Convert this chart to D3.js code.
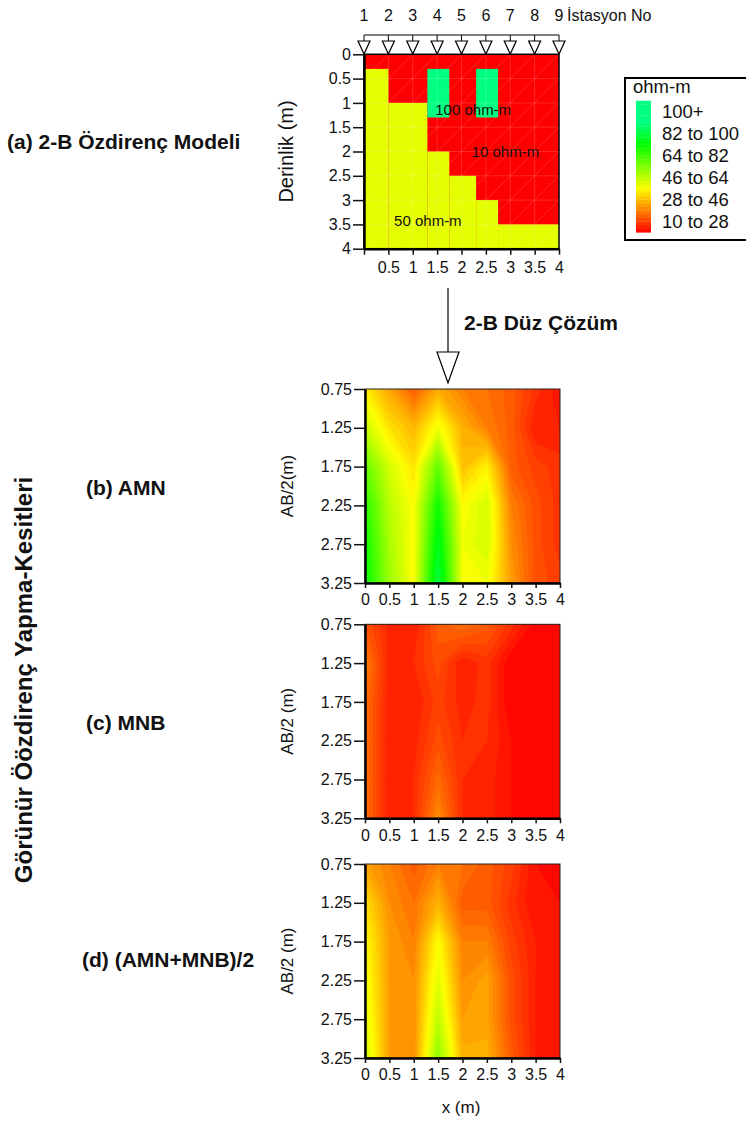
<!DOCTYPE html>
<html>
<head>
<meta charset="utf-8">
<script src="https://cdn.jsdelivr.net/npm/d3@7"></script>
<style>
body { margin: 0; background: #fff; }
text { font-family: "Liberation Sans", Arial, sans-serif; fill: #111; }
</style>
</head>
<body>
<div id="chart"></div>
<script>
const width = 746;
const height = 1124;

// station numbers and their x positions (m)
const stations = [1, 2, 3, 4, 5, 6, 7, 8, 9];
const stationX = [0, 0.5, 1, 1.5, 2, 2.5, 3, 3.5, 4];

// 2-D model blocks: [x0, x1, depth0, depth1, ohm-m]
const modelBlocks = [
    [0, 4, 0, 4, 10],
    [0, 0.5, 0.3, 4, 50],
    [0.5, 1.3, 1.0, 4, 50],
    [1.3, 1.75, 2.0, 4, 50],
    [1.75, 2.3, 2.5, 4, 50],
    [2.3, 2.75, 3.0, 4, 50],
    [2.75, 4, 3.5, 4, 50],
    [1.3, 1.75, 0.3, 1.3, 100],
    [2.3, 2.75, 0.3, 1.3, 100]
];
// model labels: [text, x, depth]
const modelLabels = [
    ['100 ohm-m', 2.24, 1.13],
    ['10 ohm-m', 2.9, 2.0],
    ['50 ohm-m', 1.31, 3.41]
];

const depthTicks = [0, 0.5, 1, 1.5, 2, 2.5, 3, 3.5, 4];
const xTicks = [0, 0.5, 1, 1.5, 2, 2.5, 3, 3.5, 4];
const abTicks = [0.75, 1.25, 1.75, 2.25, 2.75, 3.25];

// pseudo-section grid (x along columns, AB/2 along rows)
const xGrid = [0, 0.5, 1, 1.5, 2, 2.5, 3, 3.5, 4];
const abGrid = [0.75, 1.25, 1.75, 2.25, 2.75, 3.25];

const amnValues = [
    [44, 33, 23, 34, 28, 26, 23, 17, 12],
    [54, 42, 36, 48, 35, 28, 23, 14, 14],
    [68, 52, 42, 68, 37, 44, 23, 19, 17],
    [76, 56, 46, 80, 46, 52, 28, 21, 17],
    [80, 58, 46, 86, 48, 52, 30, 21, 17],
    [82, 60, 46, 92, 46, 48, 32, 21, 19]
];
const mnbValues = [
    [22, 15, 14, 23, 26, 23, 17, 11, 10],
    [28, 15, 16, 21, 14, 17, 10, 10, 10],
    [26, 14, 14, 19, 15, 17, 10, 10, 10],
    [26, 14, 15, 21, 16, 16, 12, 10, 10],
    [26, 14, 16, 25, 16, 15, 12, 10, 10],
    [26, 14, 16, 30, 16, 15, 12, 10, 10]
];
const avgValues = [
    [33, 28, 23, 28, 26, 23, 19, 12, 10],
    [42, 30, 26, 35, 23, 23, 17, 12, 12],
    [46, 32, 28, 46, 28, 28, 19, 14, 12],
    [48, 32, 30, 50, 30, 33, 21, 14, 12],
    [50, 32, 30, 55, 32, 33, 21, 14, 12],
    [53, 32, 30, 62, 35, 35, 23, 14, 12]
];

// legend
const legendLabels = ['100+', '82 to 100', '64 to 82', '46 to 64', '28 to 46', '10 to 28'];
const legendMids = [109, 91, 73, 55, 37, 19];

const color = d3.scaleLinear()
    .domain([10, 46, 82, 100])
    .range(['#ff0000', '#ffff00', '#00ff00', '#00ff80'])
    .clamp(true);

const svg = d3.select('#chart')
    .append('svg')
    .attr('width', width)
    .attr('height', height);

const styleAxis = (g, size) => {
    g.selectAll('text').style('font-size', size + 'px').style('font-family', '"Liberation Sans", Arial, sans-serif').attr('fill', '#111');
    g.selectAll('.tick line').attr('stroke', '#111').attr('stroke-width', 1.5);
    g.select('.domain').attr('stroke', '#000').attr('stroke-width', 2.5);
};

// ---------- (a) model ----------
const xA = d3.scaleLinear().domain([0, 4]).range([364, 559]);
const yA = d3.scaleLinear().domain([0, 4]).range([54.3, 248.7]);

svg.append('clipPath').attr('id', 'clipA')
    .append('rect')
    .attr('x', xA(0)).attr('y', yA(0))
    .attr('width', xA(4) - xA(0)).attr('height', yA(4) - yA(0));

const gA = svg.append('g').attr('clip-path', 'url(#clipA)');
gA.selectAll('rect.block')
    .data(modelBlocks)
    .join('rect')
    .attr('class', 'block')
    .attr('x', d => xA(d[0]))
    .attr('y', d => yA(d[2]))
    .attr('width', d => xA(d[1]) - xA(d[0]))
    .attr('height', d => yA(d[3]) - yA(d[2]))
    .attr('fill', d => color(d[4]));

// faint triangulation mesh
const meshStep = d3.range(0, 4.01, 0.5);
meshStep.forEach(v => {
    gA.append('line').attr('x1', xA(v)).attr('x2', xA(v)).attr('y1', yA(0)).attr('y2', yA(4));
    gA.append('line').attr('x1', xA(0)).attr('x2', xA(4)).attr('y1', yA(v)).attr('y2', yA(v));
});
d3.range(-4, 4.01, 0.5).forEach(v => {
    gA.append('line').attr('x1', xA(v)).attr('x2', xA(v + 4)).attr('y1', yA(4)).attr('y2', yA(0));
});
gA.selectAll('line').attr('stroke', '#fff').attr('stroke-opacity', 0.22).attr('stroke-width', 0.7);

svg.selectAll('text.mlabel')
    .data(modelLabels)
    .join('text')
    .attr('class', 'mlabel')
    .attr('x', d => xA(d[1]))
    .attr('y', d => yA(d[2]))
    .attr('text-anchor', 'middle')
    .attr('dominant-baseline', 'central')
    .style('font-size', '15px')
    .text(d => d[0]);

svg.append('rect')
    .attr('x', xA(0)).attr('y', yA(0))
    .attr('width', xA(4) - xA(0)).attr('height', yA(4) - yA(0))
    .attr('fill', 'none').attr('stroke', '#000').attr('stroke-width', 1.5);

svg.append('g')
    .attr('transform', 'translate(0,' + yA(4) + ')')
    .call(d3.axisBottom(xA).tickValues(xTicks).tickFormat(d => d === 0 ? '' : d).tickSize(6).tickSizeOuter(0).tickPadding(7))
    .call(g => styleAxis(g, 16));

svg.append('g')
    .attr('transform', 'translate(' + xA(0) + ',0)')
    .call(d3.axisLeft(yA).tickValues(depthTicks).tickFormat(d => d).tickSize(11).tickSizeOuter(0).tickPadding(2))
    .call(g => styleAxis(g, 16));

svg.append('text')
    .attr('transform', 'translate(286,' + ((yA(0) + yA(4)) / 2) + ') rotate(-90)')
    .attr('text-anchor', 'middle')
    .attr('dominant-baseline', 'central')
    .style('font-size', '20px')
    .text('Derinlik (m)');

// stations
const stY = 35;
svg.append('line')
    .attr('x1', xA(0)).attr('x2', xA(4)).attr('y1', stY).attr('y2', stY)
    .attr('stroke', '#000').attr('stroke-width', 1);
const st = svg.selectAll('g.station')
    .data(stationX)
    .join('g')
    .attr('class', 'station')
    .attr('transform', d => 'translate(' + xA(d) + ',0)');
st.append('line').attr('y1', stY).attr('y2', 41).attr('stroke', '#000');
st.append('path')
    .attr('d', 'M-6,41 L6,41 L0,54 Z')
    .attr('fill', '#fff').attr('stroke', '#000').attr('stroke-width', 1.2);
st.append('text')
    .attr('y', 21)
    .attr('text-anchor', 'middle')
    .style('font-size', '16px')
    .text((d, i) => stations[i]);
svg.append('text')
    .attr('x', 567).attr('y', 21)
    .style('font-size', '16px')
    .text('İstasyon No');

// legend
const legendY = d3.scaleLinear().domain([10, 118]).range([232.3, 100.7]);
svg.append('rect')
    .attr('x', 625).attr('y', 78).attr('width', 125).attr('height', 162)
    .attr('fill', '#fff').attr('stroke', '#000').attr('stroke-width', 2);
svg.append('text').attr('x', 633).attr('y', 93).style('font-size', '18.5px').text('ohm-m');
svg.selectAll('rect.lg')
    .data(d3.range(10, 118, 3))
    .join('rect')
    .attr('class', 'lg')
    .attr('x', 636).attr('width', 15)
    .attr('y', d => legendY(d + 3))
    .attr('height', d => legendY(d) - legendY(d + 3) + 0.3)
    .attr('fill', d => color(d + 1.5));
svg.selectAll('text.lgl')
    .data(legendLabels)
    .join('text')
    .attr('class', 'lgl')
    .attr('x', 662)
    .attr('y', (d, i) => legendY(legendMids[i]))
    .attr('dominant-baseline', 'central')
    .style('font-size', '18.5px')
    .text(d => d);

// arrow between (a) and (b)
svg.append('line').attr('x1', 448).attr('x2', 448).attr('y1', 288).attr('y2', 352)
    .attr('stroke', '#000').attr('stroke-width', 1.2);
svg.append('path').attr('d', 'M437,352 L459,352 L448,383 Z')
    .attr('fill', '#fff').attr('stroke', '#000').attr('stroke-width', 1.2);

// ---------- pseudo-sections ----------
const xS = d3.scaleLinear().domain([0, 4]).range([365, 560]);
const thresholds = d3.range(10, 101, 2);
const nx = xGrid.length;
const ny = abGrid.length;
const gxToX = d3.scaleLinear().domain([0.5, nx - 0.5]).range([xGrid[0], xGrid[nx - 1]]);
const gyToAb = d3.scaleLinear().domain([0.5, ny - 0.5]).range([abGrid[0], abGrid[ny - 1]]);

const drawSection = (id, top, values, yLabel) => {
    const yS = d3.scaleLinear().domain([0.75, 3.25]).range([top, top + 194]);
    svg.append('clipPath').attr('id', id)
        .append('rect')
        .attr('x', xS(0)).attr('y', yS(0.75))
        .attr('width', xS(4) - xS(0)).attr('height', yS(3.25) - yS(0.75));

    const proj = d3.geoTransform({
        point: function(px, py) {
            this.stream.point(xS(gxToX(px)), yS(gyToAb(py)));
        }
    });
    const path = d3.geoPath(proj);
    const bands = d3.contours().size([nx, ny]).thresholds(thresholds)(values.flat());

    const g = svg.append('g').attr('clip-path', 'url(#' + id + ')');
    g.append('rect')
        .attr('x', xS(0)).attr('y', yS(0.75))
        .attr('width', xS(4) - xS(0)).attr('height', yS(3.25) - yS(0.75))
        .attr('fill', color(10));
    g.selectAll('path')
        .data(bands)
        .join('path')
        .attr('d', path)
        .attr('fill', d => color(d.value + 1))
        .attr('stroke', d => color(d.value + 1))
        .attr('stroke-width', 0.3);

    svg.append('rect')
        .attr('x', xS(0)).attr('y', yS(0.75))
        .attr('width', xS(4) - xS(0)).attr('height', yS(3.25) - yS(0.75))
        .attr('fill', 'none').attr('stroke', '#222').attr('stroke-width', 1);

    svg.append('g')
        .attr('transform', 'translate(0,' + yS(3.25) + ')')
        .call(d3.axisBottom(xS).tickValues(xTicks).tickFormat(d => d).tickSize(5).tickSizeOuter(0).tickPadding(6))
        .call(g => styleAxis(g, 16));
    svg.append('g')
        .attr('transform', 'translate(' + xS(0) + ',0)')
        .call(d3.axisLeft(yS).tickValues(abTicks).tickFormat(d => d).tickSize(11).tickSizeOuter(0).tickPadding(2))
        .call(g => styleAxis(g, 16));

    svg.append('text')
        .attr('transform', 'translate(287,' + (top + 97) + ') rotate(-90)')
        .attr('text-anchor', 'middle')
        .attr('dominant-baseline', 'central')
        .style('font-size', '17px')
        .text(yLabel);
};

drawSection('clipB', 389, amnValues, 'AB/2(m)');
drawSection('clipC', 624.3, mnbValues, 'AB/2 (m)');
drawSection('clipD', 864, avgValues, 'AB/2 (m)');

svg.append('text')
    .attr('x', 461).attr('y', 1113)
    .attr('text-anchor', 'middle')
    .style('font-size', '17px')
    .text('x (m)');

// bold labels
const boldLabels = [
    ['(a) 2-B Özdirenç Modeli', 7, 149],
    ['2-B Düz Çözüm', 464, 330],
    ['(b) AMN', 86, 495],
    ['(c) MNB', 86, 730],
    ['(d) (AMN+MNB)/2', 82, 967]
];
svg.selectAll('text.bold')
    .data(boldLabels)
    .join('text')
    .attr('class', 'bold')
    .attr('x', d => d[1])
    .attr('y', d => d[2])
    .style('font-size', '21px')
    .style('font-weight', 'bold')
    .text(d => d[0]);

svg.append('text')
    .attr('transform', 'translate(23,680) rotate(-90)')
    .attr('text-anchor', 'middle')
    .attr('dominant-baseline', 'central')
    .style('font-size', '24px')
    .style('font-weight', 'bold')
    .text('Görünür Öözdirenç Yapma-Kesitleri');
</script>
</body>
</html>
